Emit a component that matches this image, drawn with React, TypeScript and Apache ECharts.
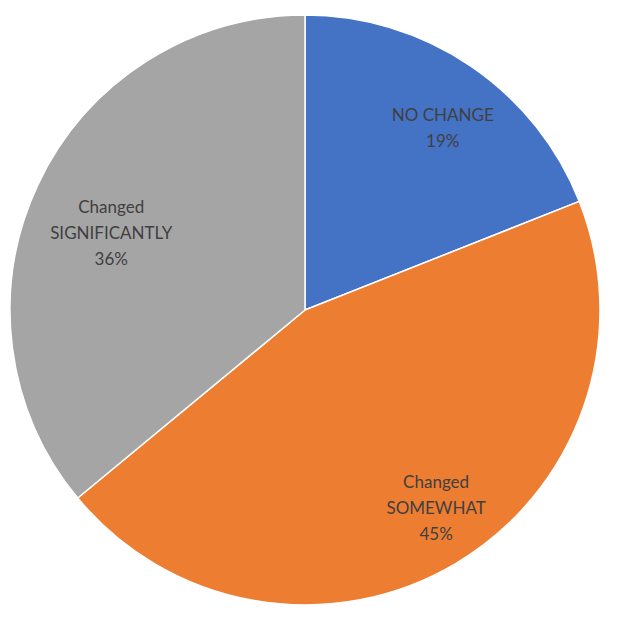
import React, { useEffect, useRef } from "react";
import * as echarts from "echarts";

const categories = ["NO CHANGE", "Changed\nSOMEWHAT", "Changed\nSIGNIFICANTLY"];
const values = [19, 45, 36];
const colors = ["#4472C4", "#ED7D31", "#A5A5A5"];
const labelRadiusRatio = [0.776, 0.803, 0.708];
const labelAngleOffset = [2.8, -3, -3.3];

export default function App() {
  const ref = useRef<HTMLDivElement>(null);
  useEffect(() => {
    if (!ref.current) return;
    const chart = echarts.init(ref.current, null, { renderer: "svg" });
    const cx = 305;
    const cy = 310;
    const R = 295;
    const total = values.reduce((a, b) => a + b, 0);
    const mids: number[] = [];
    let acc = 0;
    values.forEach((v) => {
      mids.push(((acc + v / 2) / total) * 360);
      acc += v;
    });
    chart.setOption({
      animation: false,
      backgroundColor: "#ffffff",
      series: [
        {
          type: "pie",
          center: [cx, cy],
          radius: R,
          startAngle: 90,
          clockwise: true,
          itemStyle: { borderColor: "#ffffff", borderWidth: 1.5 },
          label: {
            show: true,
            position: "inside",
            formatter: (p: any) => `${p.name}\n${p.value}%`,
            color: "#404040",
            fontFamily: "Lato",
            fontSize: 17,
            lineHeight: 26,
            align: "center",
          },
          labelLine: { show: false },
          emphasis: { disabled: true },
          labelLayout: (p: any) => {
            const i = p.dataIndex;
            const a = ((mids[i] + labelAngleOffset[i]) * Math.PI) / 180;
            const d = labelRadiusRatio[i] * R;
            return {
              x: cx + d * Math.sin(a),
              y: cy - d * Math.cos(a),
              align: "center",
              verticalAlign: "middle",
            };
          },
          data: categories.map((c, i) => ({
            name: c,
            value: values[i],
            itemStyle: { color: colors[i] },
          })),
        },
      ],
    });
    return () => chart.dispose();
  }, []);
  return (
    <div
      ref={ref}
      style={{ position: "absolute", left: 0, top: 0, width: 636, height: 630 }}
    />
  );
}
